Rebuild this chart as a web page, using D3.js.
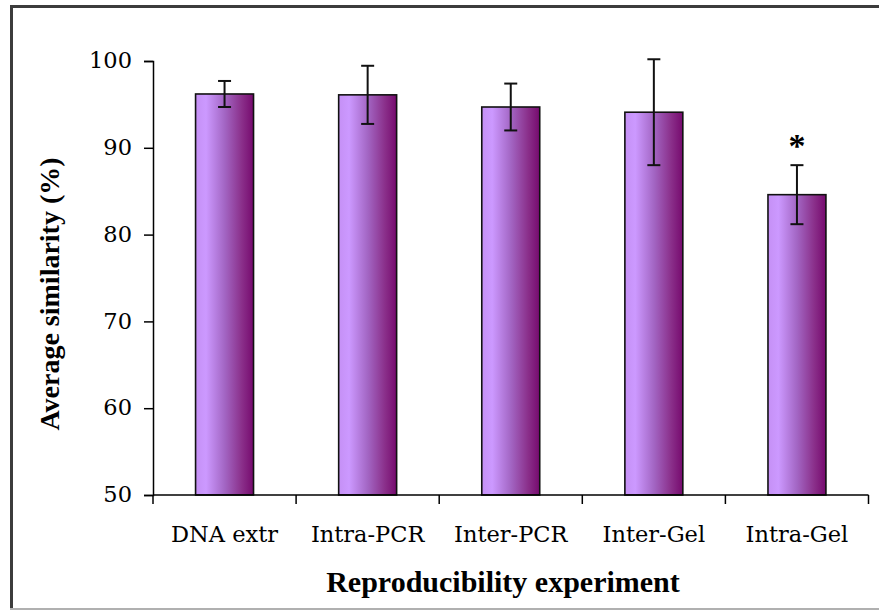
<!DOCTYPE html>
<html><head><meta charset="utf-8">
<script src="https://cdn.jsdelivr.net/npm/d3@7/dist/d3.min.js"></script>
<style>html,body{margin:0;padding:0;background:#fff;}svg{display:block;}</style>
</head><body>
<svg id="chart" width="879" height="610"></svg>
<script>
const categories = ["DNA extr", "Intra-PCR", "Inter-PCR", "Inter-Gel", "Intra-Gel"];
const meanValues = [96.2, 96.1, 94.7, 94.1, 84.6];
const errorValues = [1.5, 3.35, 2.7, 6.1, 3.4];
const significant = [false, false, false, false, true];
const yTicks = [50, 60, 70, 80, 90, 100];
const yTitle = "Average similarity (%)";
const xTitle = "Reproducibility experiment";

const labelFont = "'DejaVu Serif',serif";
const titleFont = "'Liberation Serif',serif";
const svg = d3.select("#chart");

// outer frame
svg.append("line").attr("x1", 11.5).attr("x2", 11.5).attr("y1", 5).attr("y2", 609).attr("stroke", "#3c3c3c").attr("stroke-width", 3);
svg.append("line").attr("x1", 10).attr("x2", 879).attr("y1", 6.5).attr("y2", 6.5).attr("stroke", "#3c3c3c").attr("stroke-width", 3);
svg.append("line").attr("x1", 10).attr("x2", 879).attr("y1", 609).attr("y2", 609).attr("stroke", "#b0b0b0").attr("stroke-width", 2);

const x = d3.scaleBand().domain(categories).range([153, 868.5]).paddingInner(0.595).paddingOuter(0.2975);
const y = d3.scaleLinear().domain([50, 100]).range([495, 61]);

const defs = svg.append("defs");
const grad = defs.append("linearGradient").attr("id", "barGrad").attr("x1", "0%").attr("x2", "100%").attr("y1", "0%").attr("y2", "0%");
[["0%", "#c590f5"], ["18%", "#cc99ff"], ["50%", "#a366c4"], ["80%", "#8a2f8a"], ["100%", "#760a6e"]].forEach(s =>
  grad.append("stop").attr("offset", s[0]).attr("stop-color", s[1]));

// bars
svg.append("g").selectAll("rect").data(categories).join("rect")
  .attr("x", d => x(d))
  .attr("y", (d, i) => y(meanValues[i]))
  .attr("width", x.bandwidth())
  .attr("height", (d, i) => y(50) - y(meanValues[i]))
  .attr("fill", "url(#barGrad)")
  .attr("stroke", "#111").attr("stroke-width", 1.6);

// error bars
const eb = svg.append("g").attr("stroke", "#111").attr("stroke-width", 2);
categories.forEach((c, i) => {
  const cx = x(c) + x.bandwidth() / 2;
  const top = y(meanValues[i] + errorValues[i]);
  const bot = y(meanValues[i] - errorValues[i]);
  eb.append("line").attr("x1", cx).attr("x2", cx).attr("y1", top).attr("y2", bot);
  eb.append("line").attr("x1", cx - 6.5).attr("x2", cx + 6.5).attr("y1", top).attr("y2", top);
  eb.append("line").attr("x1", cx - 6.5).attr("x2", cx + 6.5).attr("y1", bot).attr("y2", bot);
  if (significant[i]) {
    svg.append("text").attr("x", cx).attr("y", top - 8).attr("text-anchor", "middle")
      .attr("font-family", titleFont).attr("font-weight", "bold").attr("font-size", 34).attr("fill", "#000").text("*");
  }
});

// y axis
const yAxis = d3.axisLeft(y).tickValues(yTicks).tickSize(9).tickPadding(12).tickFormat(d3.format("d"));
const gy = svg.append("g").attr("transform", "translate(153,0)").call(yAxis);
gy.select(".domain").attr("stroke", "#000").attr("stroke-width", 1.5);
gy.selectAll(".tick line").attr("stroke", "#000").attr("stroke-width", 1.5);
gy.selectAll("text").attr("font-family", labelFont).attr("font-size", 22.5).attr("fill", "#000").attr("dy", "0.3em");

// x axis
svg.append("line").attr("x1", x.range()[0]).attr("x2", x.range()[1]).attr("y1", y(50)).attr("y2", y(50)).attr("stroke", "#000").attr("stroke-width", 1.5);
const step = x.step();
d3.range(categories.length + 1).forEach(k => {
  const tx = x.range()[0] + k * step;
  svg.append("line").attr("x1", tx).attr("x2", tx).attr("y1", y(50)).attr("y2", y(50) + 9).attr("stroke", "#000").attr("stroke-width", 1.5);
});
svg.append("g").selectAll("text").data(categories).join("text")
  .attr("x", d => x(d) + x.bandwidth() / 2)
  .attr("y", 542)
  .attr("text-anchor", "middle")
  .attr("font-family", labelFont).attr("font-size", 22.5).attr("fill", "#000")
  .text(d => d);

// titles
svg.append("text").attr("x", 503).attr("y", 592).attr("text-anchor", "middle")
  .attr("font-family", titleFont).attr("font-weight", "bold").attr("font-size", 30).attr("fill", "#000").text(xTitle);
svg.append("text").attr("transform", "translate(59,294) rotate(-90)").attr("text-anchor", "middle")
  .attr("font-family", titleFont).attr("font-weight", "bold").attr("font-size", 28).attr("fill", "#000").text(yTitle);
</script>
</body></html>
